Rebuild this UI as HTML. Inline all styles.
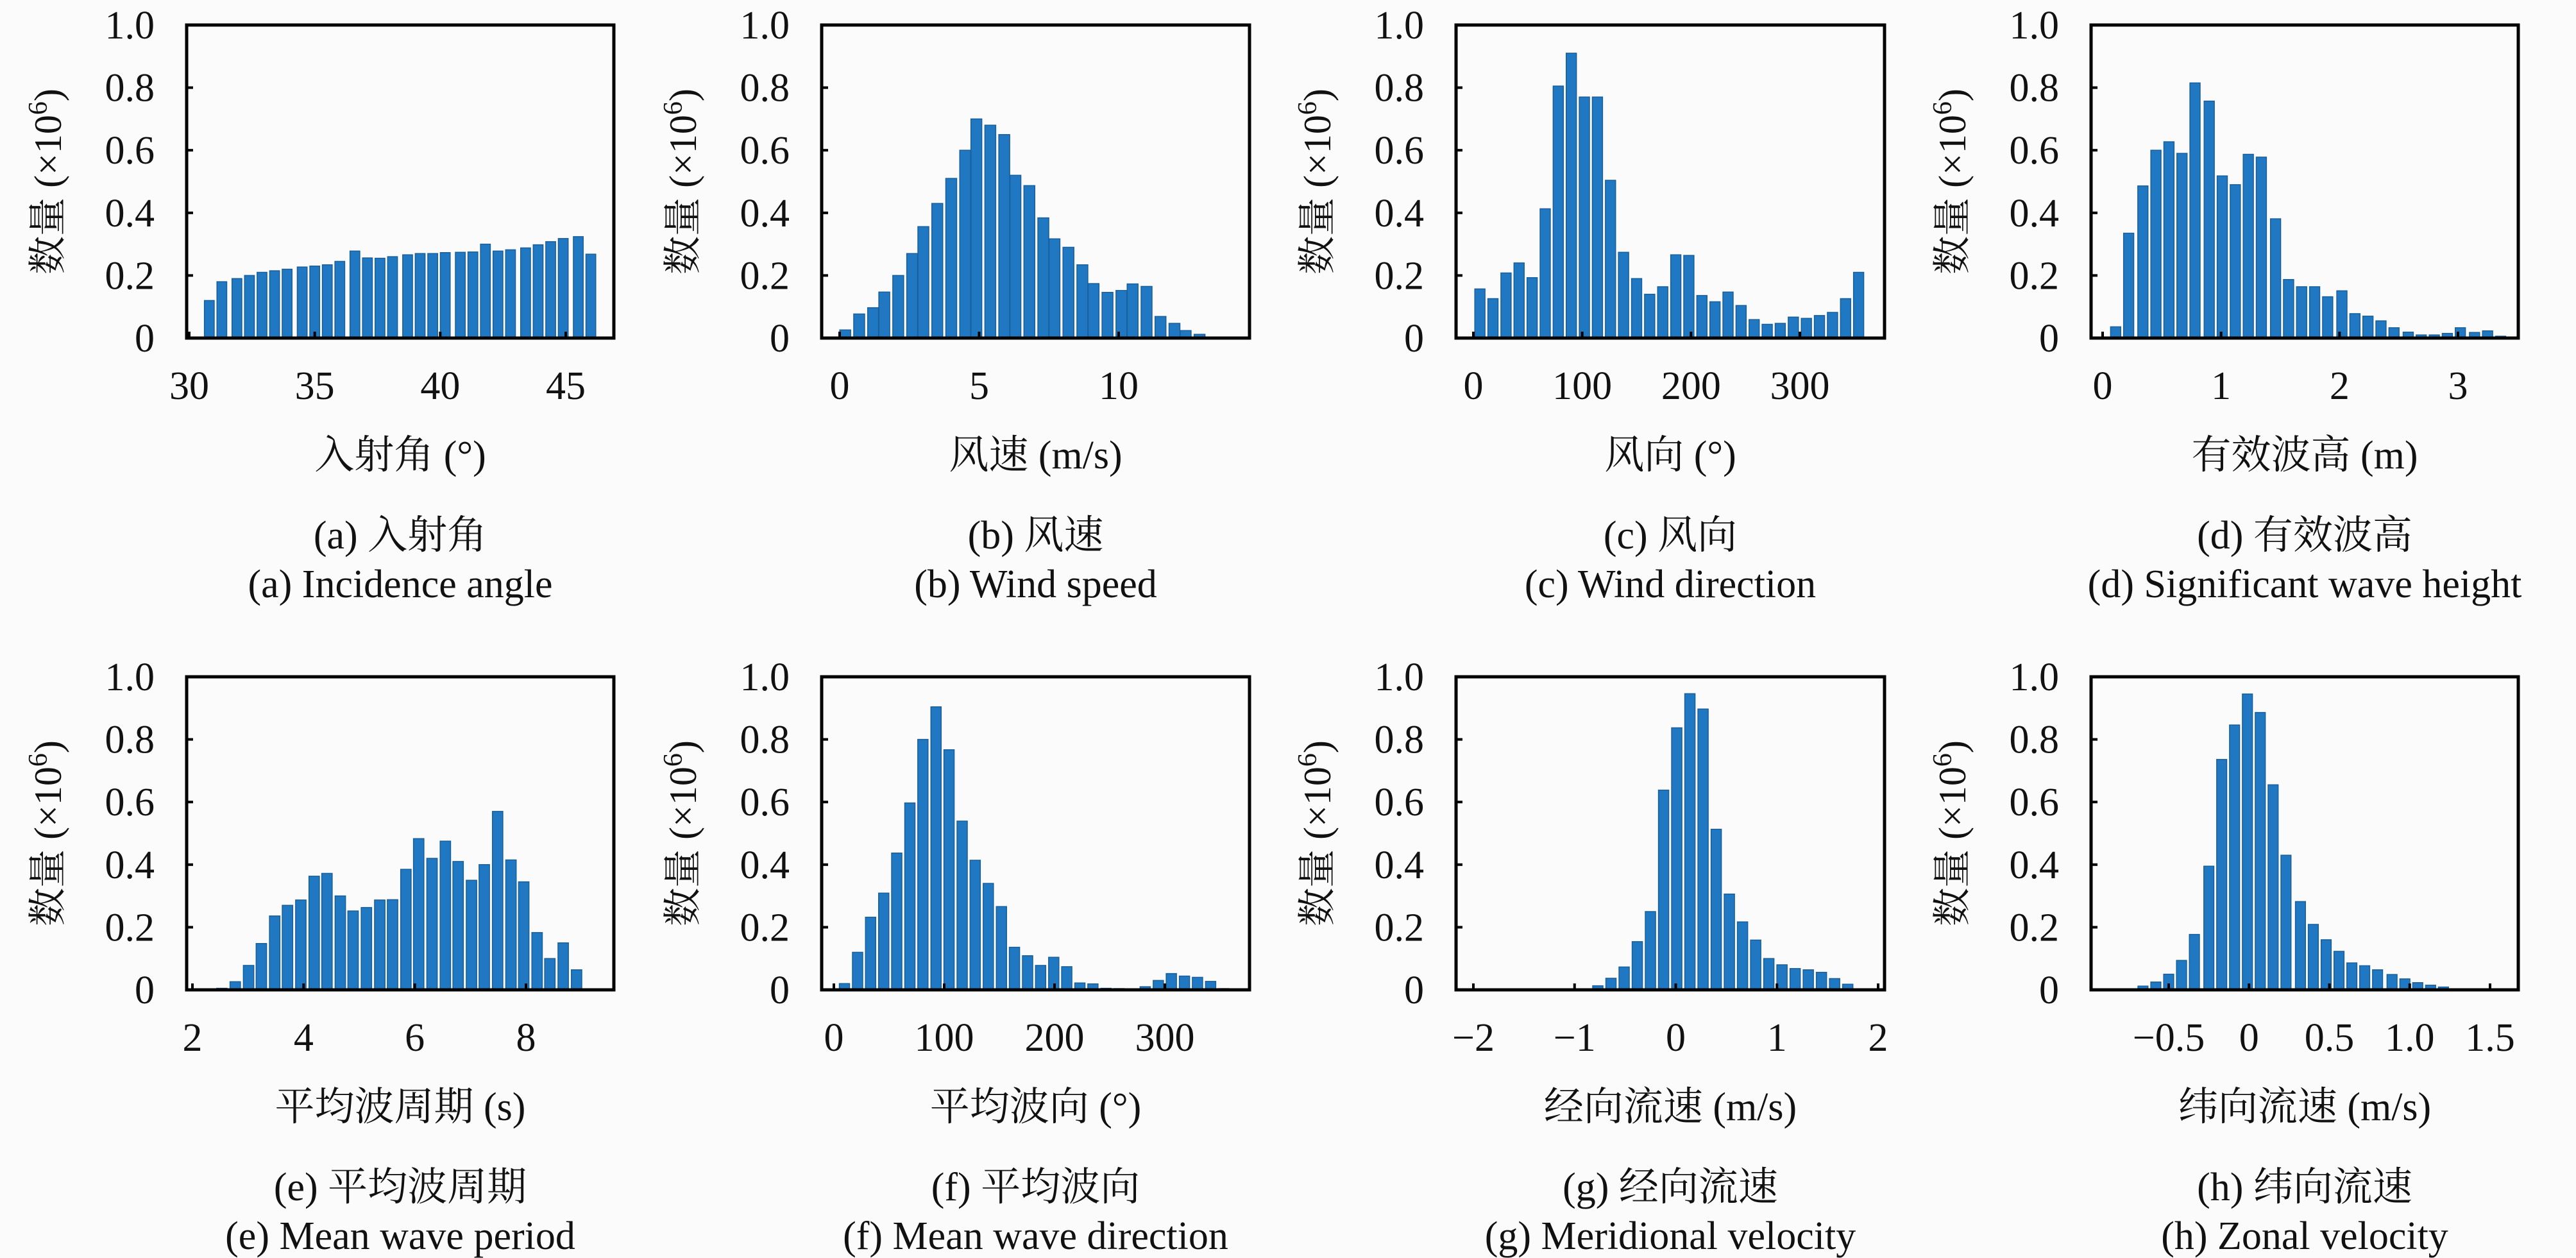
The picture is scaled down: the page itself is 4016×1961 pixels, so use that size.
<!DOCTYPE html>
<html><head><meta charset="utf-8">
<style>
html,body{margin:0;padding:0;background:#fbfbfb;}
svg{display:block;}
text{font-family:"Liberation Serif","Noto Serif CJK SC","Noto Sans CJK SC",serif;fill:#111;}
</style></head>
<body>
<svg id="fig" width="4016" height="1961" viewBox="0 0 4016 1961" xmlns="http://www.w3.org/2000/svg">
<rect width="4016" height="1961" fill="#fbfbfb"/>
</svg>
<script>
// ---- data ----
const aX=[30.8,31.3,31.9,32.4,32.9,33.4,33.9,34.5,35.0,35.5,36.0,36.6,37.1,37.6,38.1,38.7,39.2,39.7,40.2,40.8,41.3,41.8,42.3,42.8,43.4,43.9,44.4,44.9,45.5,46.0];
const aY=[0.12,0.18,0.19,0.20,0.21,0.215,0.22,0.227,0.23,0.234,0.245,0.278,0.256,0.255,0.26,0.266,0.27,0.27,0.273,0.274,0.275,0.30,0.278,0.282,0.288,0.298,0.308,0.318,0.324,0.268];
const bX=[0.2,0.7,1.2,1.6,2.1,2.6,3.0,3.5,4.0,4.5,4.9,5.4,5.9,6.3,6.8,7.3,7.7,8.2,8.7,9.1,9.6,10.1,10.5,11.0,11.5,12.0,12.4,12.9];
const bY=[0.026,0.077,0.097,0.147,0.20,0.27,0.356,0.43,0.51,0.60,0.70,0.68,0.65,0.52,0.487,0.384,0.317,0.29,0.234,0.174,0.146,0.152,0.173,0.165,0.069,0.047,0.024,0.012];
const cX=[6,18,30,42,54,66,78,90,102,114,126,138,150,162,174,186,198,210,222,234,246,258,270,282,294,306,318,330,342,354];
const cY=[0.157,0.126,0.208,0.24,0.193,0.413,0.805,0.91,0.77,0.77,0.504,0.274,0.19,0.14,0.164,0.266,0.264,0.136,0.116,0.147,0.104,0.059,0.044,0.047,0.067,0.063,0.072,0.082,0.126,0.21];
const dX=[0.11,0.22,0.34,0.45,0.56,0.67,0.78,0.90,1.01,1.12,1.23,1.34,1.46,1.57,1.68,1.79,1.90,2.02,2.13,2.24,2.35,2.46,2.58,2.69,2.80,2.91,3.02,3.14,3.25,3.36];
const dY=[0.036,0.335,0.486,0.60,0.627,0.59,0.815,0.757,0.518,0.49,0.587,0.578,0.381,0.187,0.164,0.164,0.132,0.151,0.078,0.07,0.055,0.033,0.019,0.01,0.01,0.015,0.033,0.018,0.023,0.006];
const eX=[2.53,2.77,3.01,3.24,3.48,3.71,3.95,4.19,4.42,4.66,4.89,5.13,5.37,5.60,5.84,6.07,6.31,6.55,6.78,7.02,7.25,7.49,7.73,7.96,8.20,8.43,8.67,8.91];
const eY=[0.005,0.026,0.078,0.148,0.236,0.27,0.287,0.363,0.372,0.30,0.252,0.263,0.287,0.288,0.385,0.483,0.42,0.475,0.41,0.35,0.40,0.57,0.415,0.345,0.183,0.10,0.15,0.064];
const fX=[9.6,21.5,33.3,45.2,57.0,68.9,80.7,92.6,104.4,116.3,128.1,140.0,151.9,163.7,175.6,187.4,199.3,211.1,223.0,234.8,246.7,258.5,270.4,282.2,294.1,305.9,317.8,329.6,341.5,353.3];
const fY=[0.02,0.12,0.232,0.309,0.437,0.597,0.80,0.904,0.767,0.539,0.414,0.34,0.266,0.136,0.109,0.078,0.104,0.074,0.022,0.019,0.005,0.004,0.003,0.01,0.03,0.052,0.044,0.04,0.027,0.004];
const gX=[-0.77,-0.64,-0.51,-0.38,-0.25,-0.12,0.01,0.14,0.27,0.40,0.53,0.66,0.79,0.92,1.05,1.18,1.31,1.44,1.57,1.70];
const gY=[0.013,0.037,0.073,0.154,0.25,0.638,0.837,0.946,0.897,0.513,0.306,0.217,0.159,0.10,0.08,0.068,0.064,0.056,0.036,0.018];
const hX=[-0.74,-0.66,-0.58,-0.50,-0.42,-0.34,-0.25,-0.17,-0.09,-0.01,0.07,0.15,0.23,0.32,0.40,0.48,0.56,0.64,0.72,0.80,0.89,0.97,1.05,1.13,1.21,1.29];
const hY=[0.002,0.012,0.025,0.05,0.094,0.177,0.395,0.736,0.846,0.945,0.886,0.655,0.43,0.282,0.209,0.16,0.123,0.086,0.077,0.064,0.049,0.035,0.023,0.015,0.009,0.003];
const aTicks=[30,35,40,45], bTicks=[0,5,10], cTicks=[0,100,200,300], dTicks=[0,1,2,3];
const eTicks=[2,4,6,8], fTicks=[0,100,200,300], gTicks=[-2,-1,0,1,2], hTicks=[-0.5,0,0.5,1.0,1.5];
const aTickLabels=["30","35","40","45"], bTickLabels=["0","5","10"], cTickLabels=["0","100","200","300"], dTickLabels=["0","1","2","3"];
const eTickLabels=["2","4","6","8"], fTickLabels=["0","100","200","300"], gTickLabels=["−2","−1","0","1","2"], hTickLabels=["−0.5","0","0.5","1.0","1.5"];
const yTicks=[0,0.2,0.4,0.6,0.8,1.0];
const yTickLabels=["0","0.2","0.4","0.6","0.8","1.0"];

const NS="http://www.w3.org/2000/svg";
const svg=document.getElementById('fig');
function mk(tag,attrs,parent){const e=document.createElementNS(NS,tag);for(const k in attrs)e.setAttribute(k,attrs[k]);(parent||svg).appendChild(e);return e;}

const panels=[
 {id:'a',X:aX,Y:aY,T:aTicks,TL:aTickLabels,L:291,R:957,top:39,bot:527,t0:30,p0:295,t1:45,p1:882,title:'入射角 (°)',cap1:'(a) 入射角',cap2:'(a) Incidence angle'},
 {id:'b',X:bX,Y:bY,T:bTicks,TL:bTickLabels,L:1281,R:1948,top:39,bot:527,t0:0,p0:1309,t1:10,p1:1744,title:'风速 (m/s)',cap1:'(b) 风速',cap2:'(b) Wind speed'},
 {id:'c',X:cX,Y:cY,T:cTicks,TL:cTickLabels,L:2270,R:2938,top:39,bot:527,t0:0,p0:2297,t1:300,p1:2806,title:'风向 (°)',cap1:'(c) 风向',cap2:'(c) Wind direction'},
 {id:'d',X:dX,Y:dY,T:dTicks,TL:dTickLabels,L:3260,R:3926,top:39,bot:527,t0:0,p0:3278,t1:3,p1:3832,title:'有效波高 (m)',cap1:'(d) 有效波高',cap2:'(d) Significant wave height'},
 {id:'e',X:eX,Y:eY,T:eTicks,TL:eTickLabels,L:291,R:957,top:1055,bot:1543,t0:2,p0:300,t1:8,p1:820,title:'平均波周期 (s)',cap1:'(e) 平均波周期',cap2:'(e) Mean wave period'},
 {id:'f',X:fX,Y:fY,T:fTicks,TL:fTickLabels,L:1281,R:1948,top:1055,bot:1543,t0:0,p0:1300,t1:300,p1:1816,title:'平均波向 (°)',cap1:'(f) 平均波向',cap2:'(f) Mean wave direction'},
 {id:'g',X:gX,Y:gY,T:gTicks,TL:gTickLabels,L:2270,R:2938,top:1055,bot:1543,t0:-2,p0:2297,t1:2,p1:2928,title:'经向流速 (m/s)',cap1:'(g) 经向流速',cap2:'(g) Meridional velocity'},
 {id:'h',X:hX,Y:hY,T:hTicks,TL:hTickLabels,L:3260,R:3926,top:1055,bot:1543,t0:-0.5,p0:3381,t1:1.5,p1:3882,title:'纬向流速 (m/s)',cap1:'(h) 纬向流速',cap2:'(h) Zonal velocity'}
];

panels.forEach(p=>{
  const g=mk('g',{});
  
  
  const sx=(p.p1-p.p0)/(p.t1-p.t0);
  const xs=v=>p.p0+(v-p.t0)*sx;
  const ys=v=>p.bot-v*(p.bot-p.top);
  const pitch=Math.abs(xs(p.X[1])-xs(p.X[0]));
  const bw=pitch*0.78;
  p.X.forEach((xv,i)=>{
    const y=ys(p.Y[i]);
    const r=mk('rect',{x:xs(xv)-bw/2,y:y,width:bw,height:p.bot-y,fill:'#1f78c1',stroke:'#1a5f99','stroke-width':1.5},g);
    
    
  });
  const fr=mk('rect',{x:p.L,y:p.top,width:p.R-p.L,height:p.bot-p.top,fill:'none',stroke:'#000','stroke-width':5},g);
  
  
  yTicks.forEach((t,i)=>{
    const y=ys(t);
    mk('line',{x1:p.L,y1:y,x2:p.L+10,y2:y,stroke:'#000','stroke-width':4},g);
    const tx=mk('text',{x:p.L-50,y:y+21,'text-anchor':'end','font-size':62},g);
    tx.textContent=yTickLabels[i];
    
    
  });
  p.T.forEach((t,i)=>{
    const x=xs(t);
    mk('line',{x1:x,y1:p.bot,x2:x,y2:p.bot-10,stroke:'#000','stroke-width':4},g);
    const tx=mk('text',{x:x,y:p.bot+95,'text-anchor':'middle','font-size':62},g);
    tx.textContent=p.TL[i];
    
    
  });
  const cx=(p.L+p.R)/2;
  const cy=(p.top+p.bot)/2;
  const yt=mk('text',{x:0,y:0,'text-anchor':'middle','font-size':60,transform:'translate('+(p.L-196)+','+cy+') rotate(-90)'},g);
  
  
  const t1=mk('tspan',{},yt); t1.textContent='数量 (×10';
  const t2=mk('tspan',{dy:-22,'font-size':42},yt); t2.textContent='6';
  const t3=mk('tspan',{dy:22},yt); t3.textContent=')';
  const xt=mk('text',{x:cx,y:p.bot+203,'text-anchor':'middle','font-size':62},g);
  xt.textContent=p.title;
  
  
  const c1=mk('text',{x:cx,y:p.bot+328,'text-anchor':'middle','font-size':62},g);
  c1.textContent=p.cap1;
  
  
  const c2=mk('text',{x:cx,y:p.bot+404,'text-anchor':'middle','font-size':62},g);
  c2.textContent=p.cap2;
  
  
});
</script>
</body></html>
